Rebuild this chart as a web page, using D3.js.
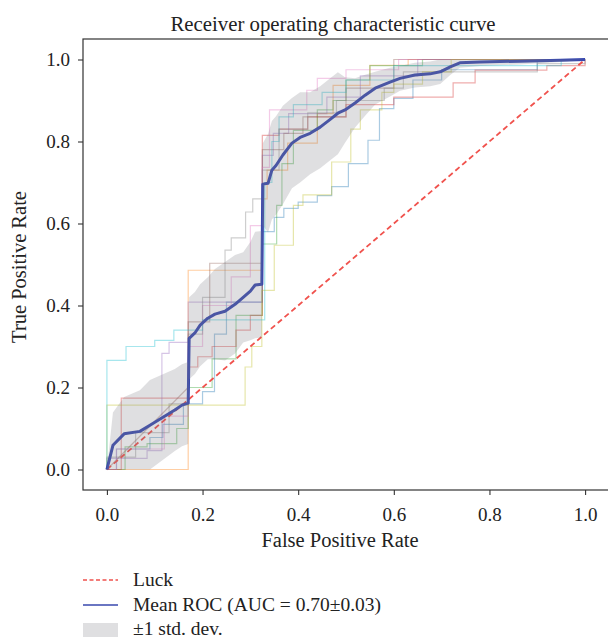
<!DOCTYPE html>
<html>
<head>
<meta charset="utf-8">
<script src="https://cdn.jsdelivr.net/npm/d3@7"></script>
<style>
  html, body { margin: 0; padding: 0; background: #fff; }
  svg text { font-family: "Liberation Serif", "DejaVu Serif", serif; fill: #222; }
</style>
</head>
<body>
<svg id="chart" width="608" height="639"></svg>
<script>
// ---------- DATA ----------
const tickValues = [0.0, 0.2, 0.4, 0.6, 0.8, 1.0];
const foldColors = ["#1f77b4", "#ff7f0e", "#2ca02c", "#d62728", "#9467bd",
                    "#8c564b", "#e377c2", "#7f7f7f", "#bcbd22", "#17becf"];

// individual fold ROC curves: [fpr, tpr]
const foldBlue = [[0,0],[0.02,0],[0.02,0.05],[0.09,0.05],[0.09,0.078],[0.117,0.078],[0.117,0.11],[0.16,0.11],[0.16,0.16],[0.2,0.16],[0.2,0.19],[0.225,0.19],[0.225,0.33],[0.25,0.33],[0.25,0.408],[0.325,0.408],[0.325,0.58],[0.35,0.58],[0.35,0.615],[0.37,0.615],[0.37,0.637],[0.4,0.637],[0.4,0.652],[0.44,0.652],[0.44,0.668],[0.47,0.668],[0.47,0.69],[0.505,0.69],[0.505,0.746],[0.546,0.746],[0.546,0.803],[0.57,0.803],[0.57,0.88],[0.6,0.88],[0.6,0.905],[0.64,0.905],[0.64,0.95],[0.7,0.95],[0.7,0.975],[0.9,0.975],[0.9,1],[1,1]];
const foldOrange = [[0,0],[0.17,0],[0.17,0.486],[0.325,0.486],[0.325,0.66],[0.335,0.66],[0.335,0.73],[0.378,0.73],[0.378,0.796],[0.44,0.796],[0.44,0.868],[0.473,0.868],[0.473,0.937],[0.55,0.937],[0.55,0.986],[0.63,0.986],[0.63,1],[1,1]];
const foldGreen = [[0,0],[0.038,0],[0.038,0.055],[0.084,0.055],[0.084,0.063],[0.146,0.063],[0.146,0.1],[0.17,0.1],[0.17,0.2],[0.22,0.2],[0.22,0.27],[0.27,0.27],[0.27,0.376],[0.325,0.376],[0.325,0.55],[0.355,0.55],[0.355,0.644],[0.366,0.644],[0.366,0.746],[0.39,0.746],[0.39,0.827],[0.44,0.827],[0.44,0.877],[0.473,0.877],[0.473,0.9],[0.5,0.9],[0.5,0.95],[0.55,0.95],[0.55,0.985],[0.66,0.985],[0.66,1],[1,1]];
const foldRed = [[0,0],[0.03,0],[0.03,0.174],[0.17,0.174],[0.17,0.25],[0.19,0.25],[0.19,0.275],[0.22,0.275],[0.22,0.3],[0.27,0.3],[0.27,0.34],[0.3,0.34],[0.3,0.376],[0.325,0.376],[0.325,0.815],[0.36,0.815],[0.36,0.83],[0.42,0.83],[0.42,0.86],[0.5,0.86],[0.5,0.89],[0.6,0.89],[0.6,0.908],[0.724,0.908],[0.724,0.943],[0.77,0.943],[0.77,0.974],[0.92,0.974],[0.92,0.985],[1,0.985],[1,1]];
const foldPurple = [[0,0],[0,0.027],[0.084,0.027],[0.084,0.046],[0.115,0.046],[0.115,0.283],[0.13,0.283],[0.13,0.31],[0.17,0.31],[0.17,0.408],[0.325,0.408],[0.325,0.766],[0.348,0.766],[0.348,0.82],[0.38,0.82],[0.38,0.868],[0.46,0.868],[0.46,0.908],[0.53,0.908],[0.53,0.96],[0.65,0.96],[0.65,1],[1,1]];
const foldBrown = [[0,0],[0.17,0.2],[0.17,0.36],[0.215,0.36],[0.215,0.503],[0.325,0.503],[0.325,0.78],[0.37,0.78],[0.37,0.82],[0.41,0.82],[0.41,0.86],[0.5,0.86],[0.5,0.93],[0.6,0.93],[0.6,1],[1,1]];
const foldPink = [[0,0],[0.02,0],[0.02,0.05],[0.12,0.05],[0.12,0.13],[0.17,0.13],[0.17,0.3],[0.2,0.3],[0.2,0.4],[0.26,0.4],[0.26,0.47],[0.3,0.47],[0.3,0.595],[0.325,0.595],[0.325,0.737],[0.34,0.737],[0.34,0.877],[0.418,0.877],[0.418,0.925],[0.44,0.925],[0.44,0.954],[0.5,0.954],[0.5,0.975],[0.61,0.975],[0.61,1],[1,1]];
const foldGray = [[0,0],[0,0.03],[0.06,0.03],[0.06,0.09],[0.13,0.09],[0.13,0.16],[0.17,0.16],[0.17,0.33],[0.2,0.33],[0.2,0.42],[0.247,0.42],[0.247,0.535],[0.26,0.535],[0.26,0.565],[0.29,0.565],[0.29,0.628],[0.305,0.628],[0.305,0.66],[0.325,0.66],[0.325,0.73],[0.36,0.73],[0.36,0.83],[0.42,0.83],[0.42,0.87],[0.48,0.87],[0.48,0.9],[0.58,0.9],[0.58,0.93],[0.62,0.93],[0.62,0.97],[0.9,0.97],[0.9,0.99],[1,0.99],[1,1]];
const foldOlive = [[0,0],[0,0.157],[0.289,0.157],[0.289,0.25],[0.303,0.25],[0.303,0.3],[0.324,0.3],[0.324,0.437],[0.35,0.437],[0.35,0.547],[0.39,0.547],[0.39,0.644],[0.41,0.644],[0.41,0.67],[0.47,0.67],[0.47,0.75],[0.51,0.75],[0.51,0.83],[0.53,0.83],[0.53,0.877],[0.575,0.877],[0.575,0.92],[0.6,0.92],[0.6,0.94],[0.66,0.94],[0.66,0.97],[0.72,0.97],[0.72,1],[1,1]];
const foldCyan = [[0,0],[0,0.266],[0.04,0.266],[0.04,0.3],[0.1,0.3],[0.1,0.315],[0.14,0.315],[0.14,0.34],[0.2,0.34],[0.2,0.365],[0.33,0.365],[0.33,0.7],[0.345,0.7],[0.345,0.8],[0.36,0.8],[0.36,0.86],[0.39,0.86],[0.39,0.89],[0.45,0.89],[0.45,0.92],[0.5,0.92],[0.5,0.95],[0.6,0.95],[0.6,0.985],[0.95,0.985],[0.95,1],[1,1]];
const folds = [foldBlue, foldOrange, foldGreen, foldRed, foldPurple, foldBrown, foldPink, foldGray, foldOlive, foldCyan];

// mean ROC and its standard deviation
const meanFpr = [0,0.0126,0.036,0.069,0.09,0.142,0.157,0.17,0.172,0.184,0.195,0.211,0.226,0.247,0.268,0.285,0.3,0.31,0.324,0.326,0.337,0.345,0.354,0.368,0.387,0.404,0.425,0.446,0.467,0.483,0.498,0.519,0.54,0.561,0.592,0.613,0.644,0.676,0.697,0.718,0.738,0.78,0.864,0.948,1];
const meanTpr = [0,0.059,0.087,0.093,0.108,0.145,0.157,0.162,0.32,0.333,0.352,0.369,0.379,0.386,0.403,0.42,0.435,0.45,0.452,0.696,0.698,0.73,0.742,0.767,0.796,0.81,0.82,0.835,0.854,0.869,0.877,0.894,0.913,0.93,0.945,0.954,0.962,0.965,0.97,0.982,0.992,0.994,0.996,0.998,1];
const stdTpr  = [0,0.08,0.09,0.1,0.11,0.1,0.1,0.1,0.1,0.1,0.1,0.1,0.11,0.12,0.12,0.11,0.12,0.13,0.13,0.1,0.12,0.12,0.12,0.12,0.11,0.11,0.1,0.1,0.1,0.1,0.08,0.06,0.05,0.04,0.035,0.03,0.03,0.03,0.03,0.02,0.012,0.01,0.008,0.004,0];

const luckLine = [[0,0],[1,1]];
const titleText = "Receiver operating characteristic curve";
const xLabelText = "False Positive Rate";
const yLabelText = "True Positive Rate";
const legendLabels = ["Luck", "Mean ROC (AUC = 0.70\u00b10.03)", "\u00b11 std. dev."];

// ---------- DRAWING ----------
const svg = d3.select("#chart");
const pL = 83, pR = 609, pT = 39, pB = 490;
const x = d3.scaleLinear().domain([-0.05, 1.05]).range([pL, pR]);
const y = d3.scaleLinear().domain([-0.05, 1.05]).range([pB, pT]);

svg.append("defs").append("clipPath").attr("id", "plotclip")
  .append("rect").attr("x", pL).attr("y", pT).attr("width", pR - pL).attr("height", pB - pT);
const plot = svg.append("g").attr("clip-path", "url(#plotclip)");

const line = d3.line().x(d => x(d[0])).y(d => y(d[1]));

folds.forEach((f, i) => {
  plot.append("path").attr("d", line(f))
    .attr("fill", "none").attr("stroke", foldColors[i])
    .attr("stroke-opacity", 0.38).attr("stroke-width", 1.2);
});

// luck diagonal
plot.append("path").attr("d", line(luckLine))
  .attr("fill", "none").attr("stroke", "#f0524d").attr("stroke-width", 1.8)
  .attr("stroke-dasharray", "5.5,3.5");

const meanPts = meanFpr.map((v, i) => [v, meanTpr[i], stdTpr[i]]);
// mean ROC
plot.append("path").attr("d", line(meanPts))
  .attr("fill", "none").attr("stroke", "#3848ae").attr("stroke-width", 3)
  .attr("stroke-linejoin", "round");

// std band
const area = d3.area()
  .x(d => x(d[0]))
  .y0(d => y(Math.max(d[1] - d[2], 0)))
  .y1(d => y(Math.min(d[1] + d[2], 1)));
plot.append("path").attr("d", area(meanPts))
  .attr("fill", "#808088").attr("fill-opacity", 0.25);

// axes
const xAxis = d3.axisBottom(x).tickValues(tickValues).tickFormat(d3.format(".1f")).tickSize(5).tickPadding(8);
const yAxis = d3.axisLeft(y).tickValues(tickValues).tickFormat(d3.format(".1f")).tickSize(5).tickPadding(8);
const gx = svg.append("g").attr("transform", `translate(0,${pB})`).call(xAxis);
const gy = svg.append("g").attr("transform", `translate(${pL},0)`).call(yAxis);
[gx, gy].forEach(g => {
  g.select(".domain").remove();
  g.selectAll(".tick line").attr("stroke", "#333").attr("stroke-width", 1.1);
  g.selectAll(".tick text").attr("font-size", 19).attr("fill", "#222")
    .attr("font-family", "Liberation Serif, DejaVu Serif, serif");
});
gx.selectAll(".tick text").attr("dy", null).attr("y", 31);
gy.selectAll(".tick text").attr("dy", "0.33em");

// frame
svg.append("rect").attr("x", pL).attr("y", pT).attr("width", pR - pL).attr("height", pB - pT)
  .attr("fill", "none").attr("stroke", "#333").attr("stroke-width", 1.2);

// title and labels
svg.append("text").attr("x", 333).attr("y", 31).attr("text-anchor", "middle")
  .attr("font-size", 20.8).text(titleText);
svg.append("text").attr("x", 340).attr("y", 547).attr("text-anchor", "middle")
  .attr("font-size", 20.5).text(xLabelText);
svg.append("text").attr("transform", `translate(26,267) rotate(-90)`)
  .attr("text-anchor", "middle").attr("font-size", 20.5).text(yLabelText);

// legend
const lg = svg.append("g");
const ly = [580, 605, 629];
lg.append("line").attr("x1", 83).attr("x2", 118).attr("y1", ly[0]).attr("y2", ly[0])
  .attr("stroke", "#f0524d").attr("stroke-width", 1.3).attr("stroke-dasharray", "4,2.5");
lg.append("line").attr("x1", 83).attr("x2", 118).attr("y1", ly[1]).attr("y2", ly[1])
  .attr("stroke", "#3848ae").attr("stroke-width", 1.5);
lg.append("rect").attr("x", 83).attr("y", ly[2] - 6).attr("width", 35).attr("height", 14)
  .attr("fill", "#808088").attr("fill-opacity", 0.25);
legendLabels.forEach((t, i) => {
  lg.append("text").attr("x", 133).attr("y", ly[i] + 5.5).attr("font-size", 19.5).text(t);
});
</script>
</body>
</html>
